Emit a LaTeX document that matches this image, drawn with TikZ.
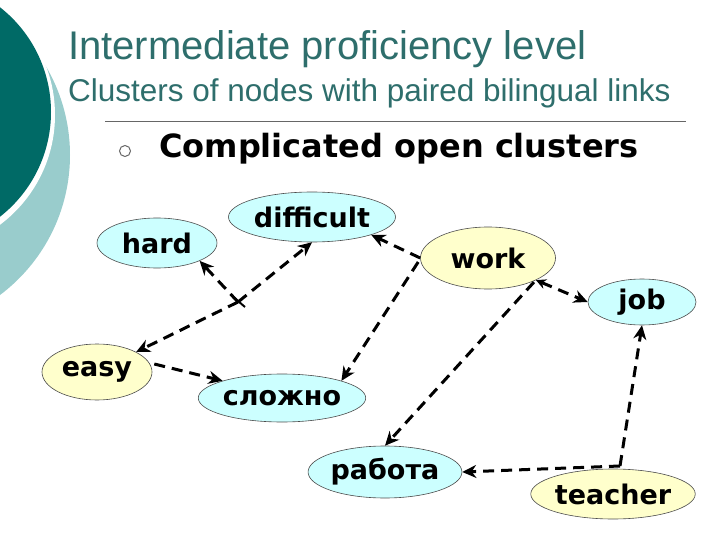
\documentclass[tikz,border=0pt]{standalone}
\usepackage{fontspec}
\setmainfont{Liberation Sans}
\newfontfamily\verd{DejaVu Sans}
\usetikzlibrary{shapes.geometric,arrows.meta}
\definecolor{teal1}{HTML}{006A66}
\definecolor{teal2}{HTML}{99CCCC}
\definecolor{titlec}{HTML}{2E6E6C}
\definecolor{cy}{HTML}{CCFFFF}
\definecolor{ye}{HTML}{FFFFCC}
\tikzset{
 word/.style={ellipse,draw=black!70,line width=0.6pt,font=\verd\bfseries\fontsize{27}{30}\selectfont,inner sep=0pt},
 cyn/.style={word,fill=cy},
 yel/.style={word,fill=ye},
 lnk/.style={line width=3pt,dash pattern=on 11pt off 7pt,-{Stealth[length=14pt,width=13pt]}},
}
\begin{document}
\begin{tikzpicture}[x=1pt,y=-1pt]
\useasboundingbox (0,0) rectangle (720,540);
\fill[teal2] (-105,155) circle (175);
\fill[white] (-82,115) circle (137);
\fill[teal1] (-82,112) circle (133);
\node[anchor=west,text=titlec,font=\fontsize{40}{44}\selectfont,inner sep=0pt] (t) at (68,49) {Intermediate proficiency level};
\node[anchor=west,text=titlec,font=\fontsize{31.5}{34}\selectfont,inner sep=0pt] (s) at (68,93) {Clusters of nodes with paired bilingual links};
\draw[black!60,line width=0.6pt] (105,121) -- (686,121);
\draw[black!60,line width=1pt] (125,151) circle (5.5);
\node[anchor=west,font=\verd\bfseries\fontsize{32}{36}\selectfont,inner sep=0pt] (b) at (159,149) {Complicated open clusters};

\node[cyn,minimum width=120,minimum height=50] (hard) at (157,243) {hard};
\node[cyn,minimum width=167,minimum height=50] (diff) at (312,217) {difficult};
\node[yel,minimum width=135,minimum height=62] (work) at (488,258) {work};
\node[cyn,minimum width=108,minimum height=46] (job) at (642,302) {job};
\node[yel,minimum width=110,minimum height=56] (easy) at (97,372) {easy};
\node[cyn,minimum width=148,minimum height=48] (sl) at (282,398) {сложно};
\node[cyn,minimum width=150,minimum height=52] (rab) at (385,472) {работа};
\node[yel,minimum width=143,minimum height=50] (teach) at (613,494) {teacher};

\coordinate (j) at (238,302);
\coordinate (tc) at (620,466);
\draw[lnk] (j) -- (easy.north east);
\draw[lnk] (j) -- (hard.south east);
\draw[lnk] (j) -- (diff.south);
\draw[black,line width=2pt] (231,295) -- (245,307);
\draw[lnk] (easy.east) ++(2,-8) -- (sl.north west);
\draw[lnk] (work.west) -- (diff.south east);
\draw[lnk] (work.west) ++(-2,4) -- (sl.north east);
\draw[lnk,{Stealth[length=10pt,width=10pt]}-{Stealth[length=14pt,width=13pt]}] (work.south east) -- (job.west);
\draw[lnk] (work.south east) ++(-2,2) -- (rab.north);
\draw[lnk] (tc) -- (rab.east);
\draw[lnk] (tc) -- (job.south);
\end{tikzpicture}
\end{document}
